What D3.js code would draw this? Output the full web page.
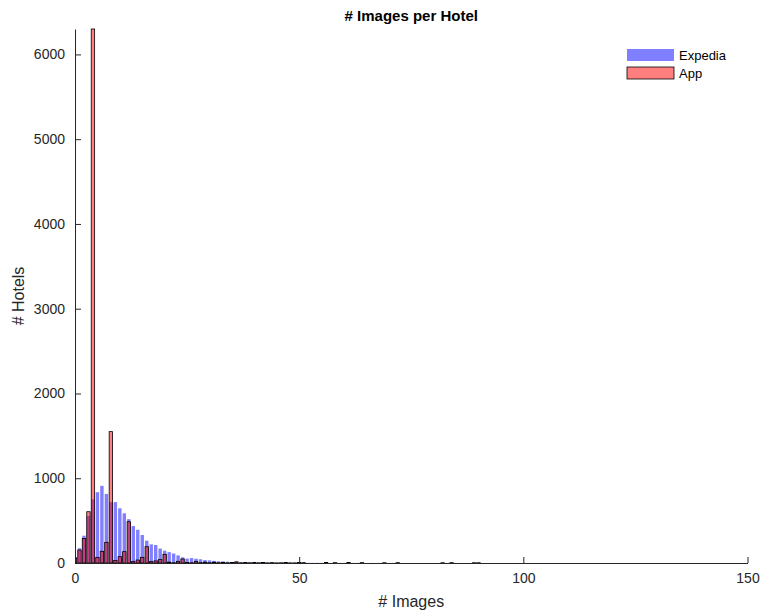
<!DOCTYPE html>
<html>
<head>
<meta charset="utf-8">
<script src="https://cdn.jsdelivr.net/npm/d3@7"></script>
<style>
    body { margin: 0; background: #fff; }
    svg { font-family: "Liberation Sans", Arial, Helvetica, sans-serif; }
</style>
</head>
<body>
<div id="chart"></div>
<script>
// Number of hotels per image count (bins 0..90)
const expediaCounts = [
    70, 175, 322, 555, 752, 835, 910, 815, 718, 718,
    645, 586, 517, 436, 392, 330, 263, 220, 212, 170,
    145, 128, 112, 90, 67, 52, 58, 50, 44, 35,
    31, 25, 20, 17, 15, 12, 10, 9, 8, 7,
    6, 6, 5, 5, 4, 4, 4, 3, 3, 3,
    3, 2, 2, 2, 2, 2, 1, 1, 1, 1,
    1, 1, 1, 1, 1, 0, 1, 0, 1, 0,
    0, 1, 0, 0, 0, 0, 0, 0, 0, 0,
    0, 0, 0, 0, 0, 0, 0, 0, 0, 0,
    0
];
const appCounts = [
    60, 153, 290, 605, 6300, 65, 138, 244, 1550, 30,
    75, 134, 487, 16, 35, 67, 192, 16, 25, 40,
    102, 10, 3, 20, 47, 5, 3, 20, 4, 10,
    3, 10, 3, 8, 2, 6, 14, 2, 6, 2,
    5, 2, 7, 1, 4, 1, 2, 5, 1, 1,
    6, 4, 0, 0, 0, 0, 5, 0, 4, 0,
    0, 5, 0, 0, 4, 0, 0, 0, 0, 3,
    0, 0, 4, 0, 0, 0, 0, 0, 0, 0,
    0, 0, 3, 0, 4, 0, 0, 0, 0, 3,
    3
];
const xTicks = [0, 50, 100, 150];
const yTicks = [0, 1000, 2000, 3000, 4000, 5000, 6000];
const seriesNames = ['Expedia', 'App'];

const width = 764, height = 614;
const margin = {top: 29, right: 16, bottom: 51, left: 75};
const axisColor = '#262626';

const svg = d3.select('#chart')
    .append('svg')
    .attr('width', width)
    .attr('height', height);

const x = d3.scaleLinear()
    .domain([0, 150])
    .range([margin.left, width - margin.right - 0.5]);

const y = d3.scaleLinear()
    .domain([0, 6300])
    .range([height - margin.bottom, margin.top]);

const barW = (x(1) - x(0)) * 0.76;

// clip bars to the plot area
svg.append('defs').append('clipPath')
    .attr('id', 'plotClip')
    .append('rect')
    .attr('x', margin.left)
    .attr('y', margin.top - 2)
    .attr('width', width - margin.right - margin.left)
    .attr('height', height - margin.bottom - margin.top + 2);

const plot = svg.append('g').attr('clip-path', 'url(#plotClip)');

// Expedia bars
plot.append('g')
    .selectAll('rect')
    .data(expediaCounts)
    .enter()
    .append('rect')
    .attr('x', (d, i) => x(i) - barW / 2)
    .attr('y', d => y(d))
    .attr('width', barW)
    .attr('height', d => y(0) - y(d))
    .attr('fill', '#0000ff')
    .attr('fill-opacity', 0.5);

// App bars
plot.append('g')
    .selectAll('rect')
    .data(appCounts)
    .enter()
    .append('rect')
    .attr('x', (d, i) => x(i) - barW / 2)
    .attr('y', d => y(d))
    .attr('width', barW)
    .attr('height', d => y(0) - y(d))
    .attr('fill', '#ff0000')
    .attr('fill-opacity', 0.5)
    .attr('stroke', '#000')
    .attr('stroke-width', 0.8);

// Axes (ticks pointing inward, no box)
const xAxis = svg.append('g')
    .attr('transform', `translate(0,${y(0)})`)
    .call(d3.axisBottom(x).tickValues(xTicks).tickFormat(d3.format('d'))
        .tickSizeInner(-6).tickSizeOuter(0).tickPadding(10));

const yAxis = svg.append('g')
    .attr('transform', `translate(${margin.left},0)`)
    .call(d3.axisLeft(y).tickValues(yTicks).tickFormat(d3.format('d'))
        .tickSizeInner(-6).tickSizeOuter(0).tickPadding(10));

[xAxis, yAxis].forEach(ax => {
    ax.select('.domain').attr('stroke', axisColor);
    ax.selectAll('.tick line').attr('stroke', axisColor);
    ax.selectAll('.tick text')
        .attr('fill', axisColor)
        .style('font-size', '14px')
        .style('font-family', '"Liberation Sans", Arial, sans-serif');
});

// Title and axis labels
svg.append('text')
    .attr('x', (x(0) + x(150)) / 2)
    .attr('y', 21)
    .attr('text-anchor', 'middle')
    .style('font-size', '15px')
    .style('font-weight', 'bold')
    .attr('fill', '#000')
    .text('# Images per Hotel');

svg.append('text')
    .attr('x', (x(0) + x(150)) / 2)
    .attr('y', 607)
    .attr('text-anchor', 'middle')
    .style('font-size', '16px')
    .attr('fill', axisColor)
    .text('# Images');

svg.append('text')
    .attr('transform', `translate(24,${(y(0) + y(6300)) / 2}) rotate(-90)`)
    .attr('text-anchor', 'middle')
    .style('font-size', '16px')
    .attr('fill', axisColor)
    .text('# Hotels');

// Legend
const legend = svg.append('g')
    .attr('transform', 'translate(627,49)');

const legendRows = legend.selectAll('g')
    .data(seriesNames)
    .enter()
    .append('g')
    .attr('transform', (d, i) => `translate(0,${i * 18})`);

legendRows.append('rect')
    .attr('width', 47)
    .attr('height', 12)
    .attr('fill', (d, i) => i === 0 ? '#0000ff' : '#ff0000')
    .attr('fill-opacity', 0.5)
    .attr('stroke', (d, i) => i === 0 ? 'none' : '#000')
    .attr('stroke-width', 0.8);

legendRows.append('text')
    .attr('x', 52)
    .attr('y', 11)
    .style('font-size', '13px')
    .attr('fill', '#000')
    .text(d => d);
</script>
</body>
</html>
